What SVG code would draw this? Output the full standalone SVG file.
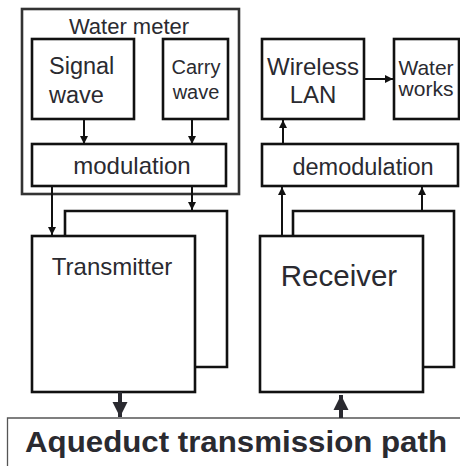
<svg xmlns="http://www.w3.org/2000/svg" width="460" height="466" viewBox="0 0 460 466">
<defs>
<style>
.box{fill:#fff;stroke:#111;stroke-width:2.6}
.outer{fill:#fff;stroke:#333;stroke-width:2.6}
.t{font-family:"Liberation Sans",Arial,sans-serif;fill:#2a2a30}
.ln{stroke:#111;stroke-width:2;fill:none}
.thick{stroke:#2a2a30;stroke-width:4;fill:none}
</style>
<marker id="ah" viewBox="0 0 10 10" refX="10" refY="5" markerWidth="4" markerHeight="4.5" orient="auto" markerUnits="strokeWidth">
<path d="M0,0 L10,5 L0,10 z" fill="#111"/>
</marker>
<marker id="bh" viewBox="0 0 10 10" refX="10" refY="5" markerWidth="3.8" markerHeight="4" orient="auto" markerUnits="strokeWidth">
<path d="M0,0 L10,5 L0,10 z" fill="#2a2a30"/>
</marker>
</defs>
<rect width="460" height="466" fill="#fff"/>

<g id="water-meter">
<rect class="outer" x="22" y="9" width="217" height="185"/>
<text class="t" x="129" y="34" font-size="22" text-anchor="middle">Water meter</text>
</g>
<g id="signal-wave">
<rect class="box" x="32" y="39" width="102" height="80"/>
<text class="t" x="49" y="74" font-size="23.5">Signal</text>
<text class="t" x="49" y="103" font-size="23.5">wave</text>
</g>
<g id="carry-wave">
<rect class="box" x="163" y="39" width="65" height="80"/>
<text class="t" x="196" y="74" font-size="20" text-anchor="middle">Carry</text>
<text class="t" x="196" y="99" font-size="20" text-anchor="middle">wave</text>
</g>
<g id="modulation">
<rect class="box" x="32" y="144" width="194" height="42"/>
<text class="t" x="132" y="174" font-size="24" text-anchor="middle">modulation</text>
</g>
<g id="transmitter">
<polyline class="box" points="65,236 65,211 227,211 227,367 195,367"/>
<rect class="box" x="32" y="236" width="163" height="156"/>
<text class="t" x="112" y="275" font-size="24" text-anchor="middle">Transmitter</text>
</g>
<g id="wireless-lan">
<rect class="box" x="262" y="39" width="102" height="80"/>
<text class="t" x="313" y="75" font-size="24" text-anchor="middle">Wireless</text>
<text class="t" x="313" y="103" font-size="24" text-anchor="middle">LAN</text>
</g>
<g id="water-works">
<rect class="box" x="394" y="39" width="65" height="80"/>
<text class="t" x="426" y="75" font-size="21" text-anchor="middle">Water</text>
<text class="t" x="426" y="96" font-size="21" text-anchor="middle">works</text>
</g>
<g id="demodulation">
<rect class="box" x="262" y="144" width="196" height="42"/>
<text class="t" x="363" y="175" font-size="23.5" text-anchor="middle">demodulation</text>
</g>
<g id="receiver">
<polyline class="box" points="293,236 293,211 454,211 454,367 423,367"/>
<rect class="box" x="260" y="236" width="163" height="156"/>
<text class="t" x="339" y="286" font-size="29.5" text-anchor="middle">Receiver</text>
</g>
<g id="aqueduct">
<polyline points="7.5,466 7.5,418 460,418" fill="none" stroke="#555" stroke-width="1.3"/>
<text class="t" x="25" y="452" font-size="30" font-weight="bold" textLength="422" lengthAdjust="spacingAndGlyphs">Aqueduct transmission path</text>
</g>

<g id="connectors">
<line class="ln" x1="84" y1="119" x2="84" y2="144" marker-end="url(#ah)"/>
<line class="ln" x1="192" y1="119" x2="192" y2="144" marker-end="url(#ah)"/>
<line class="ln" x1="52" y1="186" x2="52" y2="235" marker-end="url(#ah)"/>
<line class="ln" x1="192" y1="186" x2="192" y2="210" marker-end="url(#ah)"/>
<line class="ln" x1="282" y1="236" x2="282" y2="187" marker-end="url(#ah)"/>
<line class="ln" x1="422" y1="211" x2="422" y2="187" marker-end="url(#ah)"/>
<line class="ln" x1="283" y1="144" x2="283" y2="120" marker-end="url(#ah)"/>
<line class="ln" x1="364" y1="79" x2="393" y2="79" marker-end="url(#ah)"/>
<line class="thick" x1="120" y1="392" x2="120" y2="417" marker-end="url(#bh)"/>
<line class="thick" x1="341" y1="418" x2="341" y2="395" marker-end="url(#bh)"/>
</g>
</svg>
